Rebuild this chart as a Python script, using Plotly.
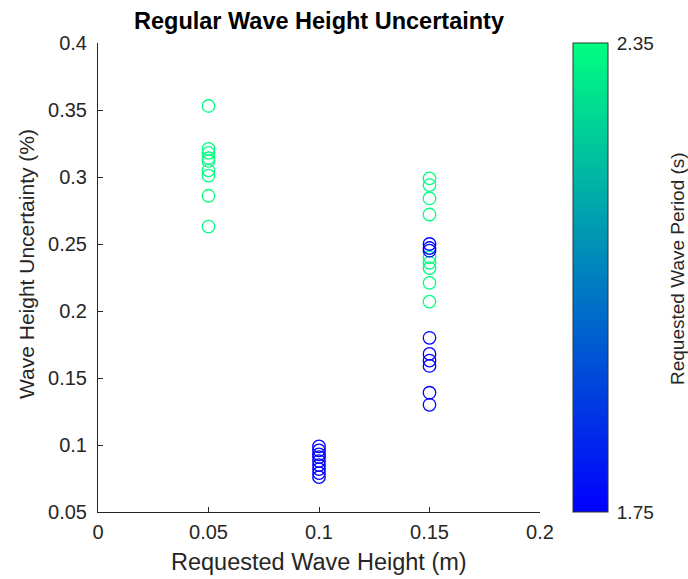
import plotly.graph_objects as go

# Requested wave height (m) for each regular-wave run
height_m = [
    0.05, 0.05, 0.05, 0.05, 0.05, 0.05, 0.05, 0.05, 0.05,
    0.10, 0.10, 0.10, 0.10, 0.10, 0.10, 0.10, 0.10, 0.10,
    0.15, 0.15, 0.15, 0.15, 0.15, 0.15, 0.15, 0.15, 0.15,
    0.15, 0.15, 0.15, 0.15, 0.15, 0.15, 0.15, 0.15, 0.15,
]

# Measured wave height uncertainty (%) for each run
uncertainty_pct = [
    0.353, 0.321, 0.318, 0.314, 0.312, 0.305, 0.301, 0.286, 0.263,
    0.099, 0.096, 0.093, 0.091, 0.088, 0.085, 0.082, 0.079, 0.076,
    0.299, 0.294, 0.284, 0.272, 0.240, 0.236, 0.232, 0.221, 0.207,
    0.250, 0.247, 0.245, 0.180, 0.168, 0.163, 0.159, 0.139, 0.130,
]

# Requested wave period (s) for each run
period_s = [
    2.35, 2.35, 2.35, 2.35, 2.35, 2.35, 2.35, 2.35, 2.35,
    1.75, 1.75, 1.75, 1.75, 1.75, 1.75, 1.75, 1.75, 1.75,
    2.35, 2.35, 2.35, 2.35, 2.35, 2.35, 2.35, 2.35, 2.35,
    1.75, 1.75, 1.75, 1.75, 1.75, 1.75, 1.75, 1.75, 1.75,
]

x_ticks = [0, 0.05, 0.1, 0.15, 0.2]
x_tick_text = ["0", "0.05", "0.1", "0.15", "0.2"]
y_ticks = [0.05, 0.1, 0.15, 0.2, 0.25, 0.3, 0.35, 0.4]
y_tick_text = ["0.05", "0.1", "0.15", "0.2", "0.25", "0.3", "0.35", "0.4"]
period_ticks = [1.75, 2.35]
period_tick_text = ["1.75", "2.35"]

W, H = 688, 579
ML, MR, MT, MB = 98, 148, 43, 67
plot_w = W - ML - MR
plot_h = H - MT - MB

FONT = "Liberation Sans, Arial, Helvetica, sans-serif"
AXIS_GREY = "#262626"

winter = [[0.0, "rgb(0,0,255)"], [1.0, "rgb(0,255,128)"]]


def px_x(px):
    """Horizontal pixel position -> paper coordinate."""
    return (px - ML) / plot_w


def px_y(py):
    """Vertical pixel position (from top) -> paper coordinate."""
    return (H - MB - py) / plot_h


fig = go.Figure(
    go.Scatter(
        x=height_m,
        y=uncertainty_pct,
        mode="markers",
        marker=dict(
            symbol="circle-open",
            size=12.5,
            line=dict(width=1.3),
            color=period_s,
            colorscale=winter,
            cmin=1.75,
            cmax=2.35,
            showscale=True,
            colorbar=dict(
                x=px_x(573),
                xanchor="left",
                xpad=0,
                ypad=0,
                len=1,
                lenmode="fraction",
                y=0.5,
                yanchor="middle",
                thickness=35,
                thicknessmode="pixels",
                outlinewidth=1,
                outlinecolor="#333333",
                tickvals=period_ticks,
                ticktext=period_tick_text,
                ticks="outside",
                ticklen=5,
                tickcolor="rgba(0,0,0,0)",
                tickfont=dict(family=FONT, size=19, color=AXIS_GREY),
            ),
        ),
        hoverinfo="x+y",
    )
)

fig.update_layout(
    width=W,
    height=H,
    margin=dict(l=ML, r=MR, t=MT, b=MB, pad=0, autoexpand=False),
    paper_bgcolor="white",
    plot_bgcolor="white",
    showlegend=False,
    title=dict(
        text="<b>Regular Wave Height Uncertainty</b>",
        x=(ML + plot_w / 2) / W,
        xanchor="center",
        y=1 - 21 / H,
        yanchor="middle",
        font=dict(family=FONT, size=23.5, color="black"),
    ),
    annotations=[
        # colour bar label, read bottom-to-top on the far right
        dict(
            text="Requested Wave Period (s)",
            textangle=-90,
            xref="paper",
            yref="paper",
            x=px_x(677),
            y=px_y(269),
            xanchor="center",
            yanchor="middle",
            showarrow=False,
            font=dict(family=FONT, size=19, color=AXIS_GREY),
        ),
        # y-axis label
        dict(
            text="Wave Height Uncertainty (%)",
            textangle=-90,
            xref="paper",
            yref="paper",
            x=px_x(26),
            y=px_y(264),
            xanchor="center",
            yanchor="middle",
            showarrow=False,
            font=dict(family=FONT, size=21, color=AXIS_GREY),
        ),
        # x-axis label
        dict(
            text="Requested Wave Height (m)",
            xref="paper",
            yref="paper",
            x=0.5,
            y=px_y(562),
            xanchor="center",
            yanchor="middle",
            showarrow=False,
            font=dict(family=FONT, size=23.5, color=AXIS_GREY),
        ),
    ],
)

fig.update_xaxes(
    range=[0, 0.2],
    tickvals=x_ticks,
    ticktext=x_tick_text,
    ticks="inside",
    ticklen=5,
    tickwidth=1,
    tickcolor=AXIS_GREY,
    showline=True,
    linecolor=AXIS_GREY,
    linewidth=1,
    showgrid=False,
    zeroline=False,
    automargin=False,
    tickfont=dict(family=FONT, size=20, color=AXIS_GREY),
    ticklabelstandoff=2,
)

fig.update_yaxes(
    range=[0.05, 0.4],
    tickvals=y_ticks,
    ticktext=y_tick_text,
    ticks="inside",
    ticklen=5,
    tickwidth=1,
    tickcolor=AXIS_GREY,
    showline=True,
    linecolor=AXIS_GREY,
    linewidth=1,
    showgrid=False,
    zeroline=False,
    automargin=False,
    tickfont=dict(family=FONT, size=20, color=AXIS_GREY),
    ticklabelstandoff=6,
)

fig.write_html("out.html")
